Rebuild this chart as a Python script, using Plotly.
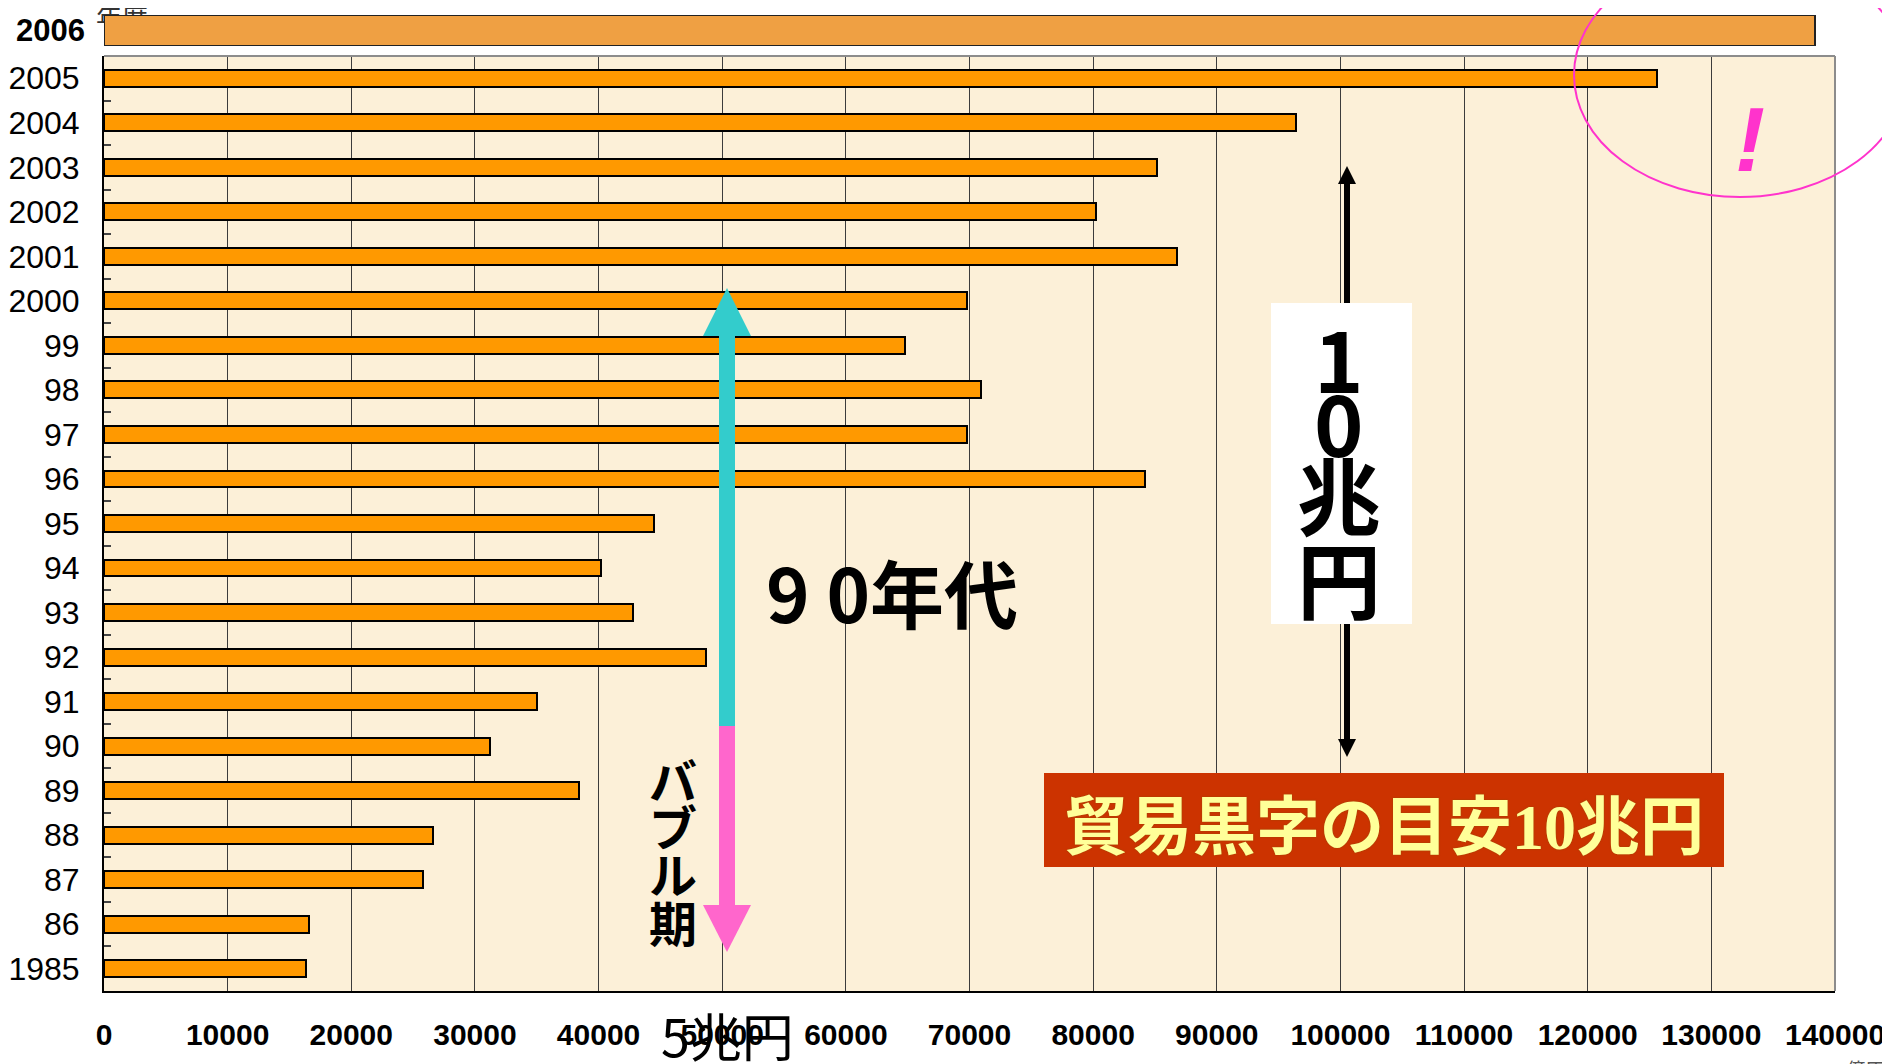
import plotly.graph_objects as go

# the page body has an 8px margin, so the figure is drawn 8px in from the top-left
OFF = 8
W, H = 1890 - OFF, 1064 - OFF

# ---------------- data ----------------
years = ["1985", "86", "87", "88", "89", "90", "91", "92", "93", "94", "95",
         "96", "97", "98", "99", "2000", "2001", "2002", "2003", "2004", "2005"]
surplus = [16300, 16600, 25800, 26600, 38400, 31200, 35000, 48700, 42800, 40200, 44500,
           84200, 69800, 70900, 64800, 69800, 86800, 80200, 85200, 96400, 125600]
years_2006 = ["2006"]
surplus_2006 = [138400]
x_max = 140000
x_step = 10000

# ---------------- helpers (screen pixel -> paper) ----------------
def px(x):
    return (x - OFF) / W

def py(y):
    return 1 - (y - OFF) / H

PLOT_L, PLOT_R, PLOT_T, PLOT_B = 104, 1835, 56, 991
CJK = "Noto Sans CJK JP"
SANS = "Liberation Sans, Arial, sans-serif"

fig = go.Figure()

fig.add_trace(go.Bar(
    x=surplus, y=years, orientation="h", width=0.38,
    marker=dict(color="#FF9900", line=dict(color="#000000", width=2)),
    hoverinfo="skip", xaxis="x", yaxis="y"))

# overlay subplot (screen-pixel coordinates) for the partially hidden unit label
fig.add_trace(go.Scatter(
    x=[122], y=[20], mode="text", text=["年度"],
    textfont=dict(family=CJK, size=26, color="#333333"),
    cliponaxis=False, hoverinfo="skip", xaxis="x2", yaxis="y2", showlegend=False))

# 2006 bar above the plot area
fig.add_trace(go.Bar(
    x=surplus_2006, y=years_2006, orientation="h", width=1,
    marker=dict(color="#EFA043", line=dict(color="#222222", width=2)),
    cliponaxis=False, hoverinfo="skip", xaxis="x3", yaxis="y3"))

shapes = []
shapes.append(dict(type="rect", xref="x domain", yref="y domain", x0=0, x1=1, y0=0, y1=1,
                   fillcolor="#FCF0D8", line=dict(width=0), layer="below"))
shapes.append(dict(type="line", xref="x domain", yref="y domain", x0=0, x1=1, y0=1, y1=1,
                   line=dict(color="#8C8C8C", width=2), layer="above"))
shapes.append(dict(type="line", xref="x domain", yref="y domain", x0=1, x1=1, y0=0, y1=1,
                   line=dict(color="#8C8C8C", width=2), layer="above"))

def rect(x0, y0, x1, y1, color):
    return dict(type="rect", xref="paper", yref="paper",
                x0=px(x0), x1=px(x1), y0=py(y1), y1=py(y0),
                fillcolor=color, line=dict(width=0), layer="above")

def tri(tip_x, tip_y, base_y, half_w, color):
    path = "M {:.5f},{:.5f} L {:.5f},{:.5f} L {:.5f},{:.5f} Z".format(
        px(tip_x), py(tip_y), px(tip_x - half_w), py(base_y), px(tip_x + half_w), py(base_y))
    return dict(type="path", xref="paper", yref="paper", path=path,
                fillcolor=color, line=dict(width=0), layer="above")

TEAL, PINK = "#33CCCC", "#FF66CC"
shapes.append(rect(719, 334, 735, 726, TEAL))
shapes.append(tri(727, 288, 336, 24, TEAL))
shapes.append(rect(719, 726, 735, 907, PINK))
shapes.append(tri(727, 952, 905, 24, PINK))

shapes.append(rect(1344, 182, 1350, 742, "#000000"))
shapes.append(tri(1347, 166, 184, 9, "#000000"))
shapes.append(tri(1347, 757, 739, 9, "#000000"))
shapes.append(rect(1271, 303, 1412, 624, "#FFFFFF"))
shapes.append(rect(1044, 773, 1724, 867, "#CC3300"))
shapes.append(dict(type="circle", xref="paper", yref="paper",
                   x0=px(1574), x1=px(1906), y0=py(197), y1=py(-47),
                   line=dict(color="#FF33CC", width=2), layer="above"))

annotations = []

def ann(text, x, y, size, color="#000000", family=CJK, weight="normal", style="normal",
        xanchor="center", yanchor="middle", shadow=None):
    f = dict(family=family, size=size, color=color, weight=weight, style=style)
    if shadow:
        f["shadow"] = shadow
    annotations.append(dict(text=text, x=px(x), y=py(y), xref="paper", yref="paper",
                            xanchor=xanchor, yanchor=yanchor, showarrow=False, font=f))

ann("9 0年代", 892, 590, 74, weight="bold")
for ch, yy in zip("バブル期", [778, 825, 872, 921]):
    ann(ch, 673, yy, 48, weight="bold")
for ch, yy in zip(["1", "0", "兆", "円"], [356, 420, 493, 576]):
    ann(ch, 1339, yy, 84, weight="bold")
ann("貿易黒字の目安<span style=\"font-family:'Liberation Serif'\">10</span>兆円",
    1384, 821, 64, color="#FFFF99", weight="bold", shadow="0px 0px 2px #9A4A00")
ann("!", 1750, 140, 90, color="#FF33CC", family="Liberation Sans", weight="bold", style="italic")
ann("5兆円", 727, 1034, 52)
ann("億円", 1866, 1053, 20, color="#555555", yanchor="top")

fig.update_layout(
    width=W, height=H, autosize=False,
    margin=dict(l=0, r=0, t=0, b=0, pad=0),
    paper_bgcolor="#FFFFFF", plot_bgcolor="rgba(0,0,0,0)",
    showlegend=False, bargap=0,
    shapes=shapes, annotations=annotations,
    xaxis=dict(domain=[px(PLOT_L), px(PLOT_R)], range=[0, x_max], dtick=x_step, tick0=0,
               tickformat="d", showgrid=True, gridcolor="#3C3C3C", gridwidth=1.2,
               zeroline=False, showline=True, linecolor="#000000", linewidth=2,
               ticks="", ticklabelstandoff=16, tickangle=0, ticklabeloverflow="allow",
               automargin=False,
               tickfont=dict(family=SANS, size=30, color="#000000", weight="bold"),
               fixedrange=True),
    yaxis=dict(domain=[py(PLOT_B), py(PLOT_T)], type="category",
               categoryorder="array", categoryarray=years,
               showgrid=False, zeroline=False, showline=True, linecolor="#000000", linewidth=2,
               ticks="inside", tickson="boundaries", ticklen=7, tickcolor="#444444", tickwidth=1.5,
               ticklabelstandoff=16, automargin=False, ticklabeloverflow="allow",
               tickfont=dict(family=SANS, size=32, color="#000000"),
               fixedrange=True),
    xaxis2=dict(domain=[0, 1], range=[OFF, OFF + W], visible=False, anchor="y2",
                automargin=False, fixedrange=True),
    yaxis2=dict(domain=[0, 1], range=[OFF + H, OFF], visible=False, anchor="x2",
                automargin=False, fixedrange=True),
    xaxis3=dict(domain=[px(PLOT_L), px(PLOT_R)], range=[0, x_max], visible=False,
                anchor="y3", automargin=False, fixedrange=True),
    yaxis3=dict(domain=[py(46), py(15)], type="category", anchor="x3", range=[-0.5, 0.5],
                showgrid=False, zeroline=False, showline=False, ticks="",
                ticklabelstandoff=18, automargin=False, ticklabeloverflow="allow",
                tickfont=dict(family=SANS, size=31, color="#000000", weight="bold"),
                fixedrange=True),
)

fig.write_html("out.html")
